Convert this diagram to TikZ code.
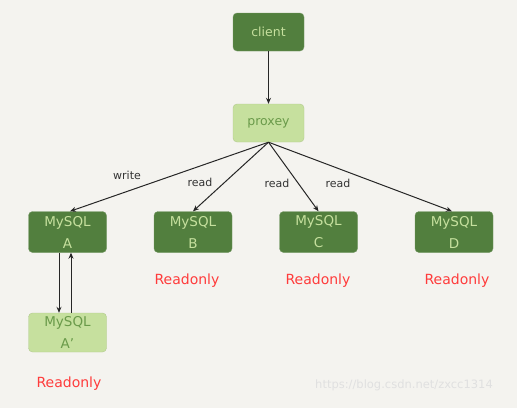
\documentclass[tikz,border=0pt]{standalone}
\usepackage{fontspec}
\setmainfont{DejaVu Sans}
\usetikzlibrary{arrows.meta}
\definecolor{bg}{HTML}{F4F3EF}
\definecolor{dkg}{HTML}{527F3E}
\definecolor{ltg}{HTML}{C6E09E}
\definecolor{ltxt}{HTML}{C6E09E}
\definecolor{dtxt}{HTML}{6A9A4A}
\definecolor{ro}{HTML}{FF3B3B}
\tikzset{
  darkbox/.style={draw=dkg!80!white, fill=dkg, rounded corners=4pt, minimum width=78pt, minimum height=41pt, text=ltxt, font=\fontsize{13.5}{22}\selectfont, align=center, inner sep=0pt},
  lightbox/.style={draw=ltg!90!black, fill=ltg, rounded corners=4pt, minimum width=78pt, minimum height=39pt, text=dtxt, font=\fontsize{13.5}{22}\selectfont, align=center, inner sep=0pt},
  conn/.style={draw=black!85, line width=1pt, -{Stealth[length=6pt,width=5pt]}},
  lbl/.style={font=\fontsize{11}{13}\selectfont, text=black!80},
  rolbl/.style={font=\fontsize{14}{16}\selectfont, text=ro},
}
\begin{document}
\begin{tikzpicture}[x=1pt,y=-1pt]
\fill[bg] (0,0) rectangle (517,408);
\useasboundingbox (0,0) rectangle (517,408);
\node[darkbox, minimum width=71pt, minimum height=38pt, font=\fontsize{12.5}{15}\selectfont] (client) at (268.5,32) {client};
\node[lightbox, minimum width=71pt, minimum height=38pt, font=\fontsize{12.5}{15}\selectfont] (proxy) at (268.5,123) {proxey};
\node[darkbox] (A) at (67.5,232) {MySQL\\A};
\node[darkbox] (B) at (193,232) {MySQL\\B};
\node[darkbox] (C) at (318.5,232) {MySQL\\C};
\node[darkbox] (D) at (454,232) {MySQL\\D};
\node[lightbox] (Ap) at (67.5,332.5) {MySQL\\A'};
\coordinate (p) at (proxy.south);
\draw[conn] (client.south) -- (proxy.north);
\draw[conn] (p) -- ([xshift=2.5pt]A.north);
\draw[conn] (p) -- (B.north);
\draw[conn] (p) -- (C.north);
\draw[conn] (p) -- ([xshift=-2pt]D.north);
\node[lbl] (w) at (127,175) {write};
\node[lbl] (r1) at (200,182) {read};
\node[lbl] (r2) at (277,183) {read};
\node[lbl] (r3) at (338,183) {read};
\draw[conn] ([xshift=-8.5pt]A.south) -- ([xshift=-8.5pt]Ap.north);
\draw[conn] ([xshift=3.5pt]Ap.north) -- ([xshift=3.5pt]A.south);
\node[rolbl] (roB) at (187,281) {Readonly};
\node[rolbl] (roC) at (318,281) {Readonly};
\node[rolbl] (roD) at (457,281) {Readonly};
\node[rolbl] (roA) at (69,384) {Readonly};
\node[font=\fontsize{11.5}{13}\selectfont, text=black!12] (wm) at (404,385) {https://blog.csdn.net/zxcc1314};
\end{tikzpicture}
\end{document}
